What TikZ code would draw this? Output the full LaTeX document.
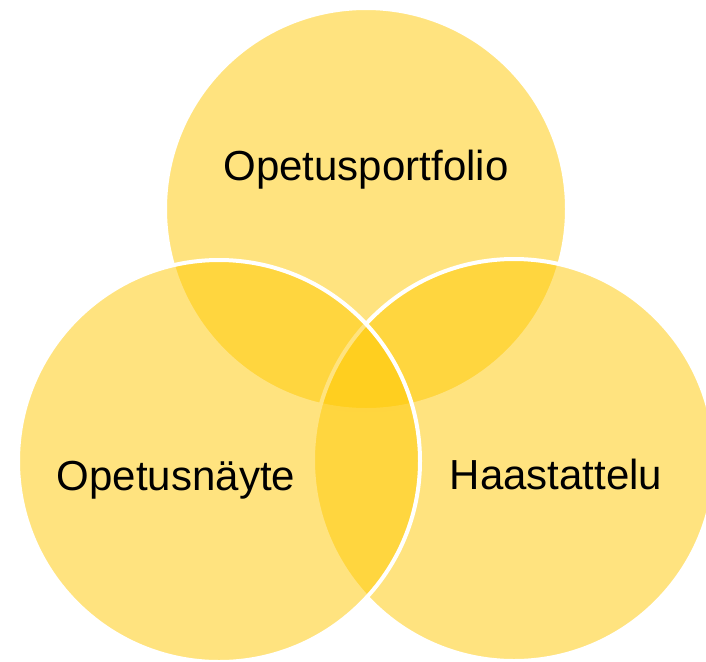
\documentclass[tikz,border=0pt]{standalone}
\usepackage{fontspec}
\setmainfont{Liberation Sans}
\usepackage{tikz}
\usetikzlibrary{positioning}

\definecolor{vennyellow}{RGB}{255,200,0}
\tikzset{
  venn/.style={circle, draw=white, line width=3pt, fill=vennyellow, fill opacity=0.5, text opacity=1, inner sep=0pt, minimum size=301.5pt},
  vennlabel/.style={anchor=base, font=\fontsize{31.5}{38}\selectfont}
}

\begin{document}
\begin{tikzpicture}[x=0.75pt,y=-0.75pt]
      \useasboundingbox (0,0) rectangle (706,661);
      % circles, bottom to top
      \node[venn] (Port) at (366,209) {};
      \node[venn] (Haas) at (514,460) {};
      \node[venn] (Nayt) at (219,461) {};
      % labels
      \node[vennlabel] (PortText) at (366,180) {Opetusportfolio};
      \node[vennlabel] (NaytText) at (176,490) {Opetusnäyte};
      \node[vennlabel] (HaasText) at (556,489) {Haastattelu};
\end{tikzpicture}
\end{document}
